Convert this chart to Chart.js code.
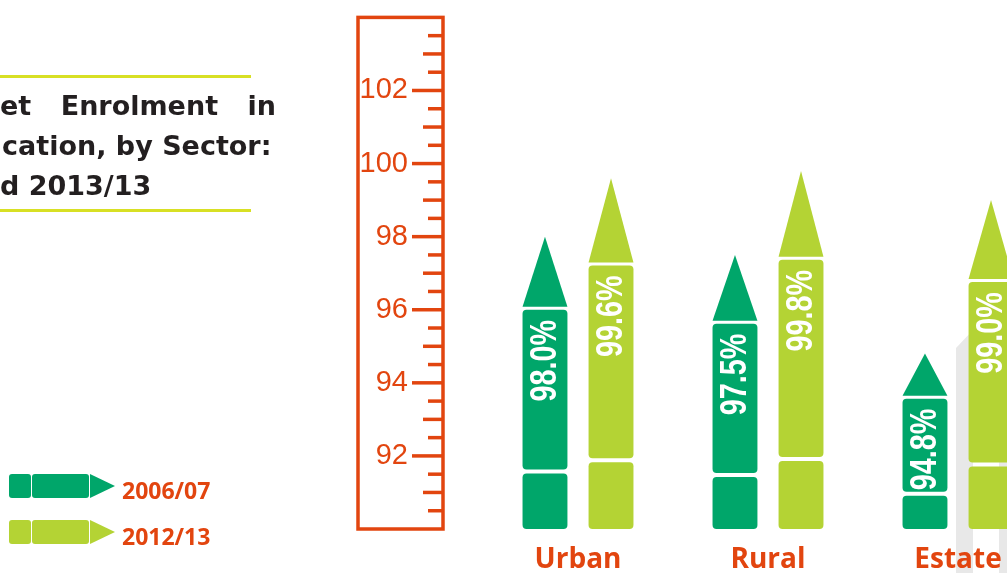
<!DOCTYPE html>
<html>
<head>
<meta charset="utf-8">
<script src="https://cdn.jsdelivr.net/npm/chart.js@4/dist/chart.umd.min.js"></script>
<style>
  html, body { margin: 0; padding: 0; background: #fff; overflow: hidden; width: 1007px; height: 573px; }
  #wrap { position: relative; width: 1007px; height: 573px; overflow: hidden; }
  #chart { position: absolute; left: 0; top: 0; }
  .rule { position: absolute; left: 0; width: 251px; height: 3px; background: #d8e024; }
  #title { position: absolute; left: 0; top: 86px; width: 276px; font: bold 27px "DejaVu Sans", sans-serif; color: #231f20; line-height: 40px; }
  #title div { white-space: nowrap; }
  #title .j { text-align: justify; text-align-last: justify; white-space: normal; }
  .leg { position: absolute; left: 9px; height: 24px; width: 230px; }
  .leg span { position: absolute; top: 0; height: 24px; }
  .leg .cap { left: 0; width: 22px; border-radius: 3px; }
  .leg .body { left: 23px; width: 57px; border-radius: 3px; }
  .leg .tip { left: 81px; width: 25px; clip-path: polygon(0 0, 100% 50%, 0 100%); }
  .leg .txt { left: 113px; line-height: 24px; font: bold 23px "Open Sans", sans-serif; color: #e2450f; }
</style>
</head>
<body>
<div id="wrap">
  <canvas id="chart" width="1060" height="573"></canvas>
  <div class="rule" style="top:75px"></div>
  <div id="title">
    <div class="j">et Enrolment in</div>
    <div style="padding-left:2px">cation, by Sector:</div>
    <div>d 2013/13</div>
  </div>
  <div class="rule" style="top:209px"></div>
  <div id="legend"></div>
</div>
<script>
const categories = ['Urban', 'Rural', 'Estate'];
const seriesNames = ['2006/07', '2012/13'];
const seriesColors = ['#00a66a', '#b4d334'];
const enrol0607 = [98.0, 97.5, 94.8];
const enrol1213 = [99.6, 99.8, 99.0];
const yTickLabels = [92, 94, 96, 98, 100, 102];

const orange = '#e2450f';

// grey backdrop behind the last pencil, under the axis labels
const backdropPlugin = {
  id: 'backdrop',
  beforeDraw(chart) {
    const last = chart.getDatasetMeta(1).data[2];
    if (!last) return;
    const ctx = chart.ctx, bx = last.x;
    ctx.save();
    ctx.fillStyle = '#e8e8e8';
    ctx.beginPath();
    ctx.moveTo(bx - 35, 348);
    ctx.lineTo(bx - 18, 330);
    ctx.lineTo(bx - 18, chart.height);
    ctx.lineTo(bx - 35, chart.height);
    ctx.closePath();
    ctx.fill();
    ctx.fillRect(bx + 8, 400, 14, chart.height - 400);
    ctx.restore();
  }
};

// ruler drawn on the y scale
const rulerPlugin = {
  id: 'ruler',
  beforeDatasetsDraw(chart) {
    const ctx = chart.ctx, ys = chart.scales.y;
    const right = chart.chartArea.left - 40, left = right - 85;
    const top = ys.getPixelForValue(ys.max), bot = ys.getPixelForValue(ys.min);
    ctx.save();
    ctx.strokeStyle = orange;
    ctx.lineWidth = 3.5;
    ctx.strokeRect(left, top, right - left, bot - top);
    ys.ticks.forEach(t => {
      const v = t.value;
      if (v <= ys.min || v >= ys.max) return;
      const len = v % 2 === 0 ? 31 : (v % 1 === 0 ? 20 : 15);
      const py = ys.getPixelForValue(v);
      ctx.beginPath();
      ctx.moveTo(right - len, py);
      ctx.lineTo(right, py);
      ctx.stroke();
    });
    ctx.restore();
  }
};

// each bar drawn as a pencil
const pencilPlugin = {
  id: 'pencils',
  beforeDatasetDraw(chart, args) {
    const ctx = chart.ctx;
    const ds = chart.data.datasets[args.index];
    ctx.save();
    args.meta.data.forEach((bar, i) => {
      const { x, y, base, width } = bar.getProps(['x', 'y', 'base', 'width'], true);
      const h = base - y, l = x - width / 2;
      const tipH = h * 0.24, capH = h * 0.19;
      ctx.fillStyle = ds.backgroundColor;
      ctx.beginPath();
      ctx.moveTo(x, y);
      ctx.lineTo(l + width, y + tipH);
      ctx.lineTo(l, y + tipH);
      ctx.closePath();
      ctx.fill();
      const bodyTop = y + tipH + 3, bodyBot = base - capH - 4;
      ctx.beginPath();
      ctx.roundRect(l, bodyTop, width, bodyBot - bodyTop, 4);
      ctx.fill();
      ctx.beginPath();
      ctx.roundRect(l, base - capH, width, capH, 4);
      ctx.fill();
      ctx.save();
      ctx.translate(x, bodyTop + 10);
      ctx.rotate(-Math.PI / 2);
      ctx.scale(0.8, 1);
      ctx.fillStyle = '#fff';
      ctx.font = 'bold 36px "Liberation Sans", sans-serif';
      ctx.textAlign = 'right';
      ctx.textBaseline = 'middle';
      ctx.fillText(ds.data[i].toFixed(1) + '%', 0, 1);
      ctx.restore();
    });
    ctx.restore();
    return false;
  }
};

new Chart(document.getElementById('chart'), {
  type: 'bar',
  data: {
    labels: categories,
    datasets: [
      { label: seriesNames[0], data: enrol0607, backgroundColor: seriesColors[0] },
      { label: seriesNames[1], data: enrol1213, backgroundColor: seriesColors[1] }
    ]
  },
  options: {
    responsive: false,
    animation: false,
    layout: { padding: { top: 12, right: 7, left: 0, bottom: 0 } },
    datasets: { bar: { categoryPercentage: 0.695, barPercentage: 0.68, base: 90 } },
    plugins: { legend: { display: false }, tooltip: { enabled: false } },
    scales: {
      x: {
        grid: { display: false },
        border: { display: false },
        afterFit: s => { s.height = 44; },
        ticks: { color: orange, font: { family: '"Open Sans", sans-serif', size: 28, weight: 'bold' }, padding: 6 }
      },
      y: {
        min: 90,
        max: 104,
        grid: { display: false, drawTicks: true, tickLength: 75 },
        border: { display: false },
        afterFit: s => { s.width = 483; },
        ticks: {
          stepSize: 0.5,
          autoSkip: false,
          padding: 0,
          color: orange,
          font: { family: '"Liberation Sans", sans-serif', size: 29 },
          callback: v => yTickLabels.includes(v) ? String(v) : ''
        }
      }
    }
  },
  plugins: [backdropPlugin, rulerPlugin, pencilPlugin]
});

// legend
const legend = document.getElementById('legend');
seriesNames.forEach((name, i) => {
  const d = document.createElement('div');
  d.className = 'leg';
  d.style.top = (474 + i * 46) + 'px';
  const c = seriesColors[i];
  d.innerHTML = '<span class="cap" style="background:' + c + '"></span>' +
    '<span class="body" style="background:' + c + '"></span>' +
    '<span class="tip" style="background:' + c + '"></span>' +
    '<span class="txt">' + name + '</span>';
  legend.appendChild(d);
});
</script>
</body>
</html>
